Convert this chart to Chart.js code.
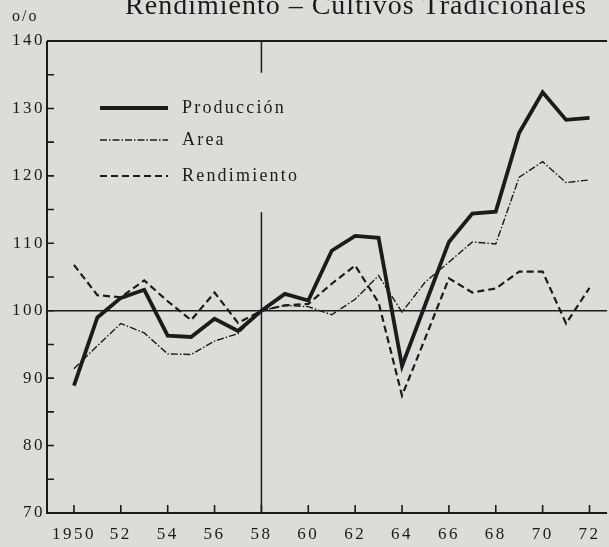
<!DOCTYPE html>
<html>
<head>
<meta charset="utf-8">
<script src="https://cdn.jsdelivr.net/npm/chart.js@4"></script>
<style>
    html, body { margin: 0; padding: 0; background: #dcdcd8; }
    #wrap { width: 609px; height: 547px; position: relative; }
</style>
</head>
<body>
<div id="wrap"><canvas id="rendChart" width="609" height="547"></canvas></div>
<script>
const years = [1950, 1951, 1952, 1953, 1954, 1955, 1956, 1957, 1958, 1959, 1960,
    1961, 1962, 1963, 1964, 1965, 1966, 1967, 1968, 1969, 1970, 1971, 1972];

const produccion = [88.9, 99.0, 101.9, 103.1, 96.3, 96.1, 98.8, 97.0, 100.0, 102.5, 101.5,
    108.9, 111.1, 110.8, 91.8, 101.0, 110.2, 114.4, 114.7, 126.4, 132.4, 128.3, 128.6];

const area = [91.4, 94.8, 98.1, 96.7, 93.6, 93.5, 95.5, 96.6, 100.0, 100.8, 100.6,
    99.4, 101.7, 105.2, 99.8, 104.3, 107.2, 110.2, 109.9, 119.8, 122.1, 119.0, 119.4];

const rendimiento = [106.8, 102.3, 102.0, 104.5, 101.4, 98.6, 102.7, 98.2, 100.0, 100.8, 101.0,
    104.0, 106.7, 101.2, 87.4, 96.0, 104.8, 102.7, 103.3, 105.8, 105.8, 98.1, 103.4];

const xTickYears = [1950, 1952, 1954, 1956, 1958, 1960, 1962, 1964, 1966, 1968, 1970, 1972];
const xTickLabels = ["1950", "52", "54", "56", "58", "60", "62", "64", "66", "68", "70", "72"];
const yTickValues = [70, 80, 90, 100, 110, 120, 130, 140];
const yMinorValues = [75, 85, 95, 105, 115, 125, 135];

const titleText = "Rendimiento \u2013 Cultivos Tradicionales";
const unitText = "o/o";
const ink = "#1b1b1b";
const serif = "'Liberation Serif', 'DejaVu Serif', serif";

function toPoints(values) {
    return years.map((y, i) => ({ x: y, y: values[i] }));
}

// wide print-style spacing for the axis labels
const spacingPlugin = {
    id: "spacing",
    beforeDraw(chart) {
        chart.ctx.letterSpacing = "2.5px";
    }
};

// frame, reference lines, inner ticks, title and legend
const decorPlugin = {
    id: "decor",
    beforeDatasetsDraw(chart) {
        const { ctx, chartArea, scales } = chart;
        const xs = scales.x, ys = scales.y;
        ctx.save();
        ctx.strokeStyle = ink;

        // axes + top border
        ctx.lineWidth = 2;
        ctx.beginPath();
        ctx.moveTo(chartArea.left, chartArea.top);
        ctx.lineTo(chartArea.right, chartArea.top);
        ctx.moveTo(chartArea.left, chartArea.top);
        ctx.lineTo(chartArea.left, chartArea.bottom);
        ctx.lineTo(chartArea.right, chartArea.bottom);
        ctx.stroke();

        // base 100 line
        ctx.lineWidth = 1.5;
        const y100 = ys.getPixelForValue(100);
        ctx.beginPath();
        ctx.moveTo(chartArea.left, y100);
        ctx.lineTo(chartArea.right, y100);
        ctx.stroke();

        // 1958 vertical (broken behind the legend)
        const x58 = xs.getPixelForValue(1958);
        ctx.beginPath();
        ctx.moveTo(x58, chartArea.top);
        ctx.lineTo(x58, ys.getPixelForValue(135.3));
        ctx.moveTo(x58, ys.getPixelForValue(114.6));
        ctx.lineTo(x58, chartArea.bottom);
        ctx.stroke();

        // x ticks inside
        ctx.lineWidth = 1.6;
        ctx.beginPath();
        xTickYears.forEach(yr => {
            const px = xs.getPixelForValue(yr);
            ctx.moveTo(px, chartArea.bottom);
            ctx.lineTo(px, chartArea.bottom - 8);
        });
        // y ticks inside
        yTickValues.concat(yMinorValues).forEach(v => {
            const py = ys.getPixelForValue(v);
            ctx.moveTo(chartArea.left, py);
            ctx.lineTo(chartArea.left + 7, py);
        });
        ctx.stroke();

        // title (cut at the top edge) and unit
        ctx.fillStyle = ink;
        ctx.font = "28px " + serif;
        ctx.letterSpacing = "1px";
        ctx.textAlign = "center";
        ctx.textBaseline = "alphabetic";
        ctx.fillText(titleText, 356, 14);
        ctx.font = "16px " + serif;
        ctx.letterSpacing = "2px";
        ctx.textAlign = "left";
        ctx.fillText(unitText, 12, 21);

        // legend
        const rows = [108, 140, 176];
        chart.data.datasets.forEach((ds, i) => {
            ctx.save();
            ctx.strokeStyle = ds.borderColor;
            ctx.lineWidth = ds.borderWidth;
            ctx.setLineDash(ds.borderDash || []);
            ctx.beginPath();
            ctx.moveTo(100, rows[i]);
            ctx.lineTo(168, rows[i]);
            ctx.stroke();
            ctx.restore();
            ctx.font = "18px " + serif;
            ctx.fillStyle = ink;
            ctx.textBaseline = "middle";
            ctx.letterSpacing = "2.2px";
            ctx.fillText(ds.label, 182, rows[i]);
        });
        ctx.restore();
    }
};

const ctx = document.getElementById("rendChart").getContext("2d");
new Chart(ctx, {
    type: "line",
    data: {
        datasets: [
            {
                label: "Producción",
                data: toPoints(produccion),
                borderColor: ink,
                borderWidth: 3.8,
                pointRadius: 0,
                tension: 0
            },
            {
                label: "Area",
                data: toPoints(area),
                borderColor: ink,
                borderWidth: 1.4,
                borderDash: [7, 2, 1.5, 2],
                pointRadius: 0,
                tension: 0
            },
            {
                label: "Rendimiento",
                data: toPoints(rendimiento),
                borderColor: ink,
                borderWidth: 2.2,
                borderDash: [7, 4],
                pointRadius: 0,
                tension: 0
            }
        ]
    },
    options: {
        responsive: false,
        animation: false,
        layout: { padding: { top: 41, right: 0, left: 0, bottom: 0 } },
        plugins: {
            legend: { display: false },
            tooltip: { enabled: false }
        },
        scales: {
            x: {
                type: "linear",
                min: 1948.85,
                max: 1972.75,
                border: { display: false },
                grid: { display: false, drawTicks: false },
                afterBuildTicks: (scale) => {
                    scale.ticks = xTickYears.map(v => ({ value: v }));
                },
                afterFit: (scale) => { scale.height = 34; },
                ticks: {
                    autoSkip: false,
                    maxRotation: 0,
                    padding: 11,
                    color: ink,
                    font: { family: serif, size: 17 },
                    callback: (value) => xTickLabels[xTickYears.indexOf(value)]
                }
            },
            y: {
                min: 70,
                max: 140,
                border: { display: false },
                grid: { display: false, drawTicks: false },
                afterBuildTicks: (scale) => {
                    scale.ticks = yTickValues.map(v => ({ value: v }));
                },
                afterFit: (scale) => { scale.width = 47; },
                ticks: {
                    padding: 2,
                    color: ink,
                    font: { family: serif, size: 17 },
                    callback: (value) => String(value)
                }
            }
        }
    },
    plugins: [spacingPlugin, decorPlugin]
});
</script>
</body>
</html>
